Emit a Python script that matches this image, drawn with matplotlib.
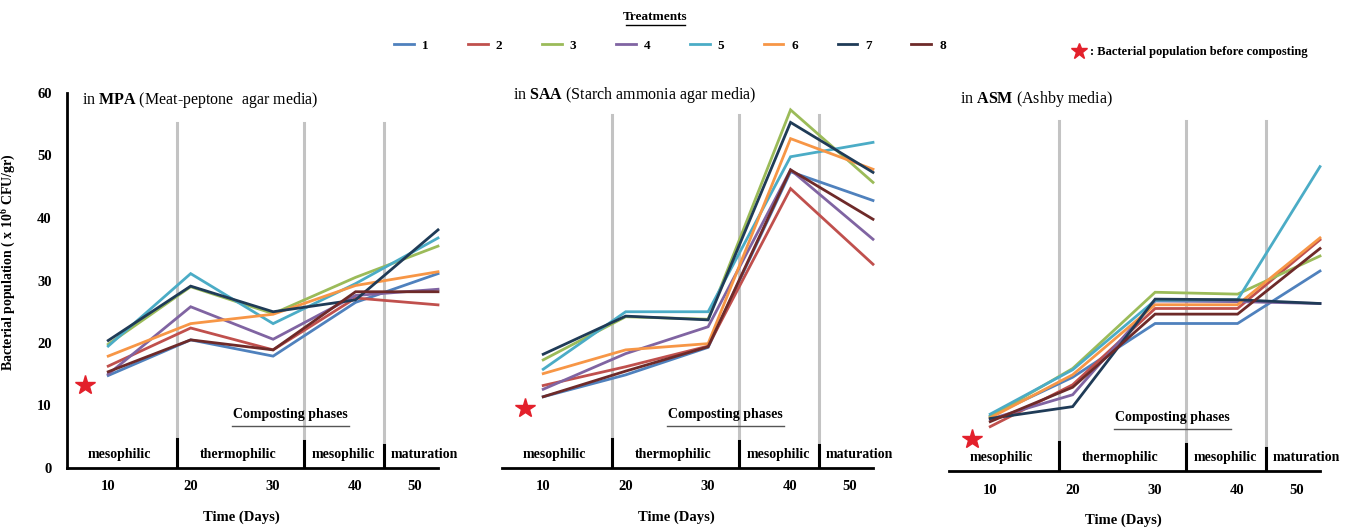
import matplotlib
matplotlib.use("Agg")
import matplotlib.pyplot as plt
from matplotlib.lines import Line2D

plt.rcParams['font.family'] = ['Liberation Serif', 'DejaVu Serif']
plt.rcParams['mathtext.fontset'] = 'custom'
plt.rcParams['mathtext.rm'] = 'Liberation Serif'
plt.rcParams['mathtext.bf'] = 'Liberation Serif:bold'

# ---------------- data ----------------
days = [10, 20, 30, 40, 50]
treatments = ['1', '2', '3', '4', '5', '6', '7', '8']
colors = ['#4F81BD', '#C0504D', '#9BBB59', '#8064A2', '#4BACC6', '#F79646', '#1F3B57', '#6E2A29']

mpa_values = [
    [14.8, 20.5, 17.9, 26.5, 31.1],
    [16.3, 22.4, 18.9, 27.2, 26.1],
    [19.8, 29.0, 24.7, 30.5, 35.5],
    [15.0, 25.8, 20.6, 27.6, 28.6],
    [19.5, 31.1, 23.1, 29.5, 36.8],
    [17.9, 23.1, 24.6, 29.2, 31.4],
    [20.4, 29.1, 25.0, 26.9, 38.1],
    [15.4, 20.5, 18.9, 28.2, 28.2],
]
saa_values = [
    [11.4, 14.9, 19.3, 47.4, 42.8],
    [13.2, 16.2, 19.5, 44.7, 32.6],
    [17.3, 24.2, 23.8, 57.3, 45.7],
    [12.6, 18.3, 22.6, 47.7, 36.6],
    [15.8, 25.0, 25.0, 49.8, 52.1],
    [15.1, 18.9, 19.9, 52.7, 47.8],
    [18.2, 24.3, 23.7, 55.3, 47.3],
    [11.4, 15.5, 19.4, 47.7, 39.8],
]
asm_values = [
    [8.8, 15.0, 23.6, 23.6, 32.0],
    [7.1, 13.8, 26.0, 26.0, 37.0],
    [8.7, 16.4, 28.6, 28.3, 34.4],
    [8.3, 12.2, 27.2, 27.1, 26.8],
    [9.1, 16.2, 27.3, 27.4, 48.7],
    [8.5, 15.4, 26.6, 26.6, 37.3],
    [8.4, 10.3, 27.5, 27.4, 26.8],
    [7.9, 13.4, 25.1, 25.1, 35.6],
]
initial_day = [7.2, 7.8, 7.8]
initial_population = [13.3, 9.6, 5.1]

media_codes = ['MPA', 'SAA', 'ASM']
media_names = ['(Meat-peptone  agar media)', '(Starch ammonia agar media)', '(Ashby media)']
xtick_labels = ['10', '20', '30', '40', '50']
ytick_values = [0, 10, 20, 30, 40, 50, 60]
phase_names = ['mesophilic', 'thermophilic', 'mesophilic', 'maturation']

# ---------------- layout ----------------
W, H = 1351, 528
fig = plt.figure(figsize=(W / 100, H / 100), dpi=100)
rects = [
    [67 / W, 60 / H, 371 / W, 375 / H],
    [502 / W, 60 / H, 371 / W, 375 / H],
    [949 / W, 57 / H, 371 / W, 375 / H],
]
xtick_pos = [10, 20, 30, 40, 47.2]
phase_bounds = [18.4, 33.7, 43.5]
divider_tops = [4.6, 4.3, 3.7]
gray_tops = [55.2, 56.5, 56.0]
phase_centers = [11.3, 25.8, 38.5, 48.4]
title_y = [0.981, 0.995, 0.992]
title_x = [0.04, 0.03, 0.03]

all_values = [mpa_values, saa_values, asm_values]
handles = []
star_handle = None

for p in range(3):
    ax = fig.add_axes(rects[p])
    ax.set_xlim(5, 50)
    ax.set_ylim(0, 60)
    for s in ['top', 'right']:
        ax.spines[s].set_visible(False)
    ax.spines['bottom'].set_linewidth(2)
    ax.spines['bottom'].set_color('black')
    if p == 0:
        ax.spines['left'].set_linewidth(2)
        ax.spines['left'].set_color('black')
        ax.set_yticks(ytick_values)
        ax.set_yticklabels([str(v) for v in ytick_values], fontsize=10.5, fontweight='bold')
        ax.set_ylabel('Bacterial population ( x 10$^{\\mathbf{6}}$ CFU/gr)', fontsize=10,
                      fontweight='bold')
        ax.yaxis.set_label_coords(-0.135, 0.55)
    else:
        ax.spines['left'].set_visible(False)
        ax.set_yticks([])
    ax.tick_params(length=0, pad=9)
    ax.tick_params(axis='y', pad=11)
    ax.set_xticks(xtick_pos)
    ax.set_xticklabels(xtick_labels, fontsize=10.5, fontweight='bold')
    ax.set_xlabel('Time (Days)', fontsize=10.5, fontweight='bold', labelpad=12)
    ax.xaxis.label.set_x(0.47)

    # phase separators
    for b, top in zip(phase_bounds, divider_tops):
        ax.plot([b, b], [0, gray_tops[p]], color='#C3C3C3', lw=2.2, zorder=1)
        ax.plot([b, b], [0, top], color='black', lw=2.2, zorder=4)
    for name, c in zip(phase_names, phase_centers):
        ax.text(c, 2.1, name, ha='center', va='center', fontsize=10, fontweight='bold', zorder=5)
    ax.text(32.1, 8.5, 'Composting phases', ha='center', va='center', fontsize=10,
            fontweight='bold', zorder=5)
    ax.plot([25.0, 39.2], [6.7, 6.7], color='#555555', lw=1.0, zorder=5)

    # series
    for i, vals in enumerate(all_values[p]):
        ln, = ax.plot(days, vals, color=colors[i], lw=2.0, label=treatments[i],
                      clip_on=False, zorder=3, solid_joinstyle='miter')
        if p == 0:
            handles.append(ln)
    st, = ax.plot([initial_day[p]], [initial_population[p]], marker='*', color='#E3202B',
                  markersize=15, linestyle='none', clip_on=False, zorder=6,
                  label=': Bacterial population before composting')
    if p == 0:
        star_handle = st

    ax.text(title_x[p], title_y[p], 'in $\\mathbf{' + media_codes[p] + '}$ ' + media_names[p],
            transform=ax.transAxes, fontsize=11.5, ha='left', va='center')

# ---------------- legend ----------------
fig.text(655 / W, 1 - 17 / H, 'Treatments', ha='center', va='center', fontsize=9.5,
         fontweight='bold')
fig.add_artist(Line2D([626 / W, 685 / W], [1 - 25 / H, 1 - 25 / H], color='black', lw=1.0,
                      transform=fig.transFigure))
leg = fig.legend(handles=handles, labels=treatments, ncol=8, loc='center',
                 bbox_to_anchor=(670 / W, 1 - 46 / H), frameon=False,
                 prop=dict(weight='bold', size=9.5), handlelength=1.5, handletextpad=0.6,
                 columnspacing=3.0, borderpad=0)
leg2 = fig.legend(handles=[star_handle], labels=[': Bacterial population before composting'],
                  loc='center left', bbox_to_anchor=(1068 / W, 1 - 52 / H), frameon=False,
                  prop=dict(weight='bold', size=9), handlelength=0.8, handletextpad=0.5,
                  borderpad=0, markerscale=0.8)

fig.savefig('out.png', dpi=100)
